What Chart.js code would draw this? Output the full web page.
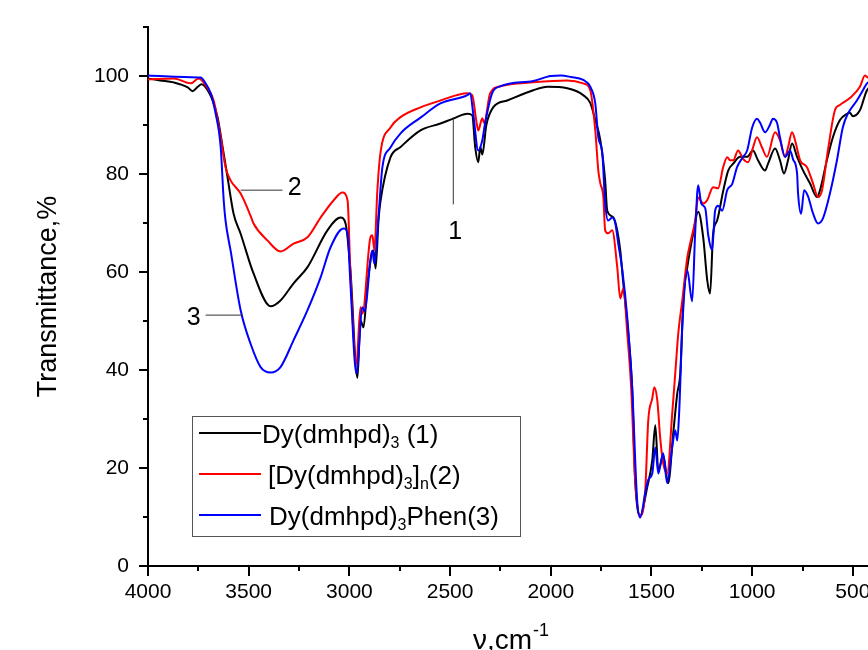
<!DOCTYPE html>
<html>
<head>
<meta charset="utf-8">
<title>IR spectra</title>
<script src="https://cdn.jsdelivr.net/npm/chart.js@4.4.0/dist/chart.umd.min.js"></script>
<style>
  html, body { margin: 0; padding: 0; background: #fff; overflow: hidden; }
  #wrap { width: 900px; height: 680px; }
</style>
</head>
<body>
<div id="wrap"><canvas id="ir" width="900" height="680"></canvas></div>
<script>
// spectrum 1 - Dy(dmhpd)3
const wn1 = [4000, 3940, 3872, 3803, 3778, 3753, 3734, 3704, 3679, 3654, 3629, 3605, 3575, 3540, 3476, 3391, 3342, 3277, 3208, 3109, 3044, 3019, 2995, 2960, 2945, 2930, 2910, 2880, 2870, 2855, 2845, 2796, 2746, 2647, 2548, 2484, 2414, 2390, 2375, 2360, 2350, 2340, 2320, 2286, 2216, 2087, 2017, 1918, 1839, 1804, 1779, 1754, 1730, 1720, 1690, 1670, 1655, 1640, 1615, 1596, 1581, 1556, 1521, 1496, 1481, 1466, 1442, 1417, 1392, 1372, 1357, 1342, 1322, 1293, 1268, 1243, 1223, 1209, 1194, 1174, 1144, 1119, 1094, 1060, 1025, 996, 971, 936, 921, 886, 862, 842, 822, 802, 777, 747, 713, 678, 663, 629, 599, 564, 529, 515, 500, 465, 430, 400];
const t1 = [99.5, 99.1, 98.7, 97.7, 96.9, 97.8, 98.3, 97.1, 95.0, 91.5, 85.4, 79.3, 71.9, 67.8, 59.7, 53.0, 54.2, 57.7, 61.0, 68.5, 71.1, 69.9, 60.5, 38.4, 50.1, 48.7, 57.7, 64.4, 60.7, 70.8, 74.6, 83.4, 85.5, 88.9, 90.3, 91.3, 92.3, 92.0, 85.4, 82.4, 85.5, 84.0, 90.0, 93.6, 95.0, 97.1, 97.8, 97.5, 96.1, 94.5, 91.0, 86.9, 78.7, 72.6, 71.2, 68.5, 64.4, 57.7, 47.4, 36.5, 17.5, 10.3, 16.1, 21.6, 28.7, 19.5, 22.6, 16.9, 27.1, 35.2, 39.3, 54.2, 61.0, 67.8, 72.3, 67.0, 58.3, 55.6, 67.8, 70.5, 76.5, 80.7, 82.1, 83.5, 83.5, 84.8, 82.8, 80.7, 82.1, 85.2, 82.8, 80.1, 82.8, 86.2, 83.5, 80.7, 78.1, 75.3, 76.7, 82.8, 87.5, 91.0, 92.3, 92.5, 91.8, 93.0, 97.1, 98.0];

// spectrum 2 - [Dy(dmhpd)3]n
const wn2 = [4000, 3872, 3788, 3749, 3704, 3674, 3639, 3615, 3590, 3540, 3491, 3476, 3406, 3342, 3277, 3208, 3143, 3079, 3034, 3009, 2995, 2965, 2945, 2935, 2896, 2886, 2876, 2861, 2846, 2796, 2746, 2647, 2548, 2414, 2390, 2370, 2360, 2340, 2331, 2301, 2251, 2087, 1918, 1839, 1804, 1779, 1764, 1754, 1739, 1730, 1715, 1695, 1670, 1655, 1640, 1620, 1601, 1581, 1556, 1531, 1516, 1496, 1486, 1471, 1457, 1442, 1422, 1397, 1382, 1367, 1347, 1322, 1308, 1283, 1268, 1243, 1223, 1194, 1169, 1144, 1124, 1109, 1094, 1070, 1045, 1020, 996, 976, 951, 927, 886, 862, 837, 822, 802, 787, 762, 728, 698, 673, 653, 624, 589, 564, 515, 465, 440, 425, 400];
const t2 = [99.3, 99.5, 98.5, 99.5, 97.5, 95.0, 87.5, 81.4, 78.7, 76.0, 71.5, 69.9, 66.4, 64.2, 65.8, 67.1, 71.1, 74.6, 76.2, 74.6, 60.0, 41.3, 52.8, 51.5, 67.0, 67.5, 64.5, 76.7, 84.2, 89.5, 91.6, 93.6, 95.0, 96.5, 96.1, 90.9, 88.9, 91.4, 90.4, 96.5, 97.9, 98.7, 99.1, 98.5, 97.1, 88.9, 80.7, 78.1, 75.3, 68.5, 67.9, 68.5, 61.0, 54.6, 56.6, 47.4, 36.5, 17.5, 10.3, 15.4, 29.7, 34.2, 36.5, 33.8, 26.3, 21.0, 18.9, 31.1, 39.3, 47.4, 54.2, 63.0, 65.8, 70.5, 75.2, 74.0, 74.7, 77.3, 77.1, 81.4, 83.4, 82.8, 82.8, 84.8, 83.1, 82.4, 85.4, 87.5, 85.4, 83.5, 88.5, 86.9, 83.5, 85.4, 88.5, 86.9, 82.8, 81.4, 78.1, 75.3, 76.7, 84.8, 93.0, 94.1, 95.5, 97.8, 100.1, 99.7, 99.8];

// spectrum 3 - Dy(dmhpd)3Phen
const wn3 = [4000, 3753, 3739, 3714, 3689, 3664, 3639, 3624, 3615, 3590, 3540, 3491, 3441, 3391, 3342, 3277, 3208, 3143, 3094, 3029, 3009, 2995, 2965, 2935, 2925, 2886, 2876, 2856, 2836, 2796, 2746, 2647, 2548, 2414, 2400, 2385, 2360, 2340, 2326, 2291, 2251, 2087, 2000, 1950, 1900, 1839, 1804, 1779, 1764, 1744, 1730, 1715, 1695, 1680, 1665, 1645, 1620, 1596, 1571, 1556, 1531, 1516, 1496, 1481, 1466, 1442, 1422, 1397, 1382, 1372, 1362, 1347, 1322, 1298, 1283, 1268, 1253, 1233, 1218, 1199, 1184, 1169, 1149, 1124, 1099, 1075, 1045, 1025, 1000, 976, 961, 936, 912, 897, 877, 862, 837, 812, 797, 777, 772, 757, 742, 723, 698, 673, 648, 614, 579, 550, 525, 480, 450, 430, 400];
const t3 = [100.1, 99.7, 99.7, 98.5, 96.5, 92.3, 85.4, 74.6, 70.5, 64.4, 52.2, 45.4, 40.6, 39.5, 40.6, 46.1, 52.2, 58.9, 65.0, 68.9, 67.9, 57.7, 39.3, 52.8, 52.0, 64.4, 61.7, 71.1, 81.4, 85.4, 88.3, 91.5, 94.4, 96.1, 96.5, 92.3, 84.8, 86.9, 90.4, 96.5, 97.9, 99.0, 100.0, 100.1, 99.8, 99.2, 97.8, 94.4, 87.5, 84.2, 74.0, 70.5, 71.1, 70.0, 65.8, 60.5, 50.6, 36.5, 13.3, 9.9, 14.9, 17.6, 18.9, 24.2, 18.9, 23.0, 16.9, 24.2, 27.7, 25.6, 31.8, 48.7, 60.3, 54.0, 68.0, 77.7, 74.0, 73.0, 67.5, 64.5, 72.5, 73.5, 72.5, 76.7, 78.0, 81.4, 83.5, 84.8, 89.5, 91.3, 90.5, 88.5, 90.0, 91.3, 90.5, 87.5, 83.5, 84.8, 83.0, 80.1, 76.0, 71.9, 76.7, 75.5, 72.0, 69.9, 71.0, 76.0, 82.8, 89.5, 92.3, 95.0, 97.1, 98.5, 99.0];

const names = ['Dy(dmhpd)_3 (1)', '[Dy(dmhpd)_3]_n(2)', 'Dy(dmhpd)_3Phen(3)'];
const colors = ['#000000', '#ff0000', '#0000ff'];
const xMajor = [4000, 3500, 3000, 2500, 2000, 1500, 1000, 500];
const yMajor = [0, 20, 40, 60, 80, 100];

// callout labels: number, leader line (wavenumber, %T) -> text position
const callouts = [
  { text: '1', from: [2484, 91.6], to: [2484, 73.8], at: [2474, 68.1] },
  { text: '2', from: [3540, 76.7], to: [3332, 76.7], at: [3272, 77.1] },
  { text: '3', from: [3530, 51.2], to: [3714, 51.2], at: [3773, 50.6] }
];

const FONT = "'Liberation Sans', Arial, sans-serif";

function pts(xs, ys) {
  return xs.map((x, i) => ({ x: x, y: ys[i] }));
}

// draws "abc_3def" with single-char subscripts
function drawSub(ctx, str, x, y, size) {
  let i = 0;
  while (i < str.length) {
    if (str[i] === '_') {
      ctx.font = Math.round(size * 0.62) + 'px ' + FONT;
      ctx.fillText(str[i + 1], x, y + size * 0.2);
      x += ctx.measureText(str[i + 1]).width;
      i += 2;
    } else {
      let j = i;
      while (j < str.length && str[j] !== '_') j++;
      const part = str.slice(i, j);
      ctx.font = size + 'px ' + FONT;
      ctx.fillText(part, x, y);
      x += ctx.measureText(part).width;
      i = j;
    }
  }
}

// keep tick-label overhang out of the layout so the plot area is fixed
function noPad(s) {
  s.paddingTop = 0;
  s.paddingBottom = 0;
  s.paddingLeft = 0;
  s.paddingRight = 0;
}

const extras = {
  id: 'extras',
  afterDraw(chart) {
    const ctx = chart.ctx;
    const xs = chart.scales.x, ys = chart.scales.y;
    const area = chart.chartArea;
    ctx.save();

    // tick marks
    ctx.strokeStyle = '#000';
    ctx.lineWidth = 2;
    ctx.beginPath();
    for (let v = 4000; v >= 400; v -= 250) {
      const px = Math.round(xs.getPixelForValue(v));
      const len = v % 500 === 0 ? 10 : 5;
      ctx.moveTo(px, area.bottom);
      ctx.lineTo(px, area.bottom + len);
    }
    for (let v = 0; v <= 110; v += 10) {
      const py = Math.round(ys.getPixelForValue(v));
      const len = v % 20 === 0 ? 9 : 5;
      ctx.moveTo(area.left, py);
      ctx.lineTo(area.left - len, py);
    }
    ctx.stroke();

    // callouts
    ctx.strokeStyle = '#333';
    ctx.lineWidth = 1;
    ctx.fillStyle = '#000';
    ctx.textAlign = 'center';
    ctx.textBaseline = 'middle';
    ctx.font = '25px ' + FONT;
    callouts.forEach(c => {
      ctx.beginPath();
      ctx.moveTo(xs.getPixelForValue(c.from[0]), ys.getPixelForValue(c.from[1]));
      ctx.lineTo(xs.getPixelForValue(c.to[0]), ys.getPixelForValue(c.to[1]));
      ctx.stroke();
      ctx.fillText(c.text, xs.getPixelForValue(c.at[0]), ys.getPixelForValue(c.at[1]));
    });

    // legend box
    const bx = area.left + 44, by = area.bottom - 150, bw = 328, bh = 120;
    ctx.strokeStyle = '#555';
    ctx.lineWidth = 1;
    ctx.strokeRect(bx + 0.5, by + 0.5, bw, bh);
    const textX = [bx + 70, bx + 76, bx + 77];
    ctx.textAlign = 'left';
    ctx.textBaseline = 'alphabetic';
    names.forEach((n, i) => {
      const ly = by + 17 + i * 41;
      ctx.strokeStyle = colors[i];
      ctx.lineWidth = 2;
      ctx.beginPath();
      ctx.moveTo(bx + 7, ly);
      ctx.lineTo(bx + 69, ly);
      ctx.stroke();
      ctx.fillStyle = '#000';
      drawSub(ctx, n, textX[i], ly + 10, 26);
    });

    // axis titles
    ctx.fillStyle = '#000';
    ctx.textAlign = 'center';
    ctx.textBaseline = 'middle';
    ctx.save();
    ctx.translate(49, (area.top + area.bottom) / 2);
    ctx.rotate(-Math.PI / 2);
    ctx.font = '27px ' + FONT;
    ctx.fillText('Transmittance,%', 0, 0);
    ctx.restore();

    ctx.textAlign = 'left';
    ctx.textBaseline = 'alphabetic';
    ctx.font = '28px ' + FONT;
    const main = 'ν,cm';
    const mw = ctx.measureText(main).width;
    ctx.font = '18px ' + FONT;
    const sw = ctx.measureText('-1').width;
    const tx = (area.left + area.right) / 2 - (mw + sw) / 2;
    ctx.font = '28px ' + FONT;
    ctx.fillText(main, tx, area.bottom + 83);
    ctx.font = '18px ' + FONT;
    ctx.fillText('-1', tx + mw + 1, area.bottom + 70);

    ctx.restore();
  }
};

new Chart(document.getElementById('ir'), {
  type: 'line',
  data: {
    datasets: [
      { label: 'Dy(dmhpd)3 (1)', data: pts(wn1, t1), borderColor: colors[0], order: 2 },
      { label: '[Dy(dmhpd)3]n(2)', data: pts(wn2, t2), borderColor: colors[1], order: 1 },
      { label: 'Dy(dmhpd)3Phen(3)', data: pts(wn3, t3), borderColor: colors[2], order: 0 }
    ]
  },
  options: {
    responsive: false,
    animation: false,
    devicePixelRatio: 1,
    layout: { padding: { top: 27, right: 27, left: 0, bottom: 0 } },
    elements: {
      line: { borderWidth: 2, tension: 0.3, fill: false, cubicInterpolationMode: 'monotone' },
      point: { radius: 0 }
    },
    plugins: {
      legend: { display: false },
      tooltip: { enabled: false }
    },
    scales: {
      x: {
        type: 'linear',
        reverse: true,
        min: 400,
        max: 4000,
        afterBuildTicks: s => { s.ticks = xMajor.map(v => ({ value: v })); },
        afterFit: s => { s.height = 114; noPad(s); },
        grid: { display: false, drawTicks: false },
        border: { display: true, color: '#000', width: 2 },
        ticks: {
          padding: 14,
          color: '#000',
          maxRotation: 0,
          font: { family: FONT, size: 21 },
          callback: v => String(v)
        }
      },
      y: {
        min: 0,
        max: 110,
        afterBuildTicks: s => { s.ticks = yMajor.map(v => ({ value: v })); },
        afterFit: s => { s.width = 148; noPad(s); },
        grid: { display: false, drawTicks: false },
        border: { display: true, color: '#000', width: 2 },
        ticks: {
          padding: 19,
          color: '#000',
          font: { family: FONT, size: 21 },
          callback: v => String(v)
        }
      }
    }
  },
  plugins: [extras]
});
</script>
</body>
</html>
